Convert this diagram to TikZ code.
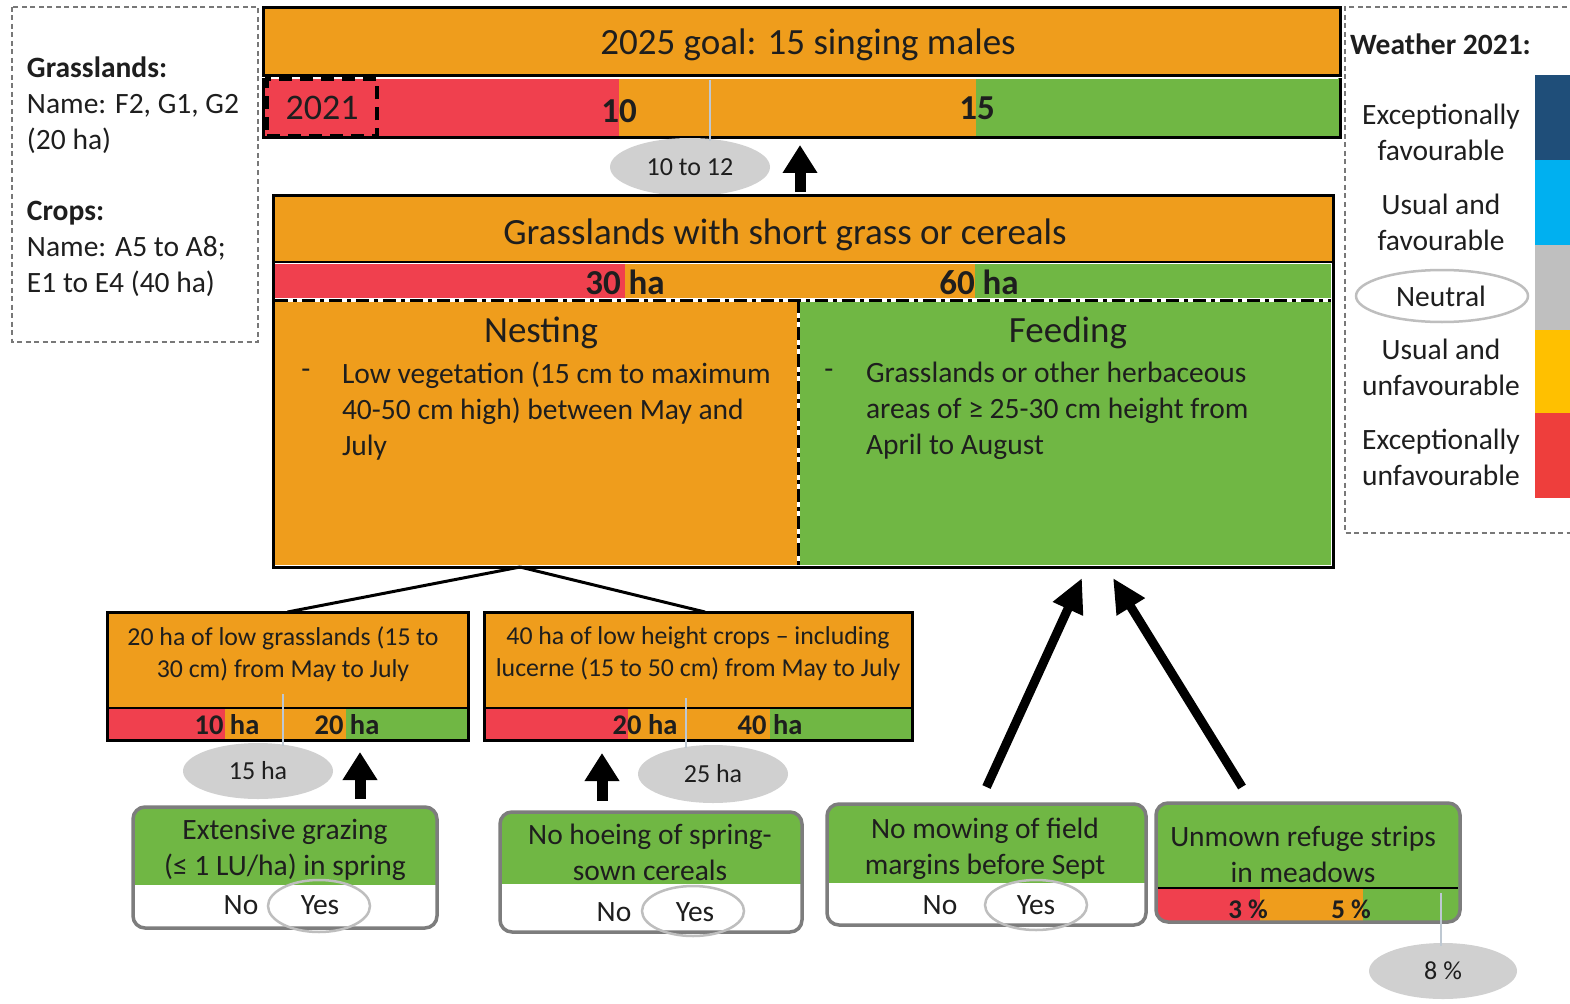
\documentclass[tikz,border=0pt]{standalone}
\usepackage{fontspec}
\setmainfont{Carlito}
\usetikzlibrary{arrows.meta,calc,shapes.geometric}

\definecolor{ink}{RGB}{30,30,30}
\definecolor{orng}{RGB}{239,157,28}
\definecolor{redb}{RGB}{240,64,78}
\definecolor{grnb}{RGB}{112,183,68}
\definecolor{ovalgray}{RGB}{208,208,208}
\definecolor{ringgray}{RGB}{190,190,190}
\definecolor{framegray}{RGB}{125,125,125}
\definecolor{tickgray}{RGB}{190,200,210}
\definecolor{dashgray}{RGB}{120,120,120}
\definecolor{wdark}{RGB}{31,78,121}
\definecolor{wlight}{RGB}{0,176,240}
\definecolor{wgray}{RGB}{191,191,191}
\definecolor{wyellow}{RGB}{255,192,0}
\definecolor{wred}{RGB}{238,62,60}

\newcommand\fz[2]{\fontsize{#1}{#2}\selectfont}

\begin{document}
\begin{tikzpicture}[x=1pt,y=-1pt,
  every node/.style={inner sep=0pt, outer sep=0pt, text=ink},
  plain/.style={font=\fz{29.5}{36}},
  head/.style={font=\fz{37}{44}},
  boxtext/.style={font=\fz{25.8}{32}, align=center},
  oval/.style={ellipse, fill=ovalgray, font=\fz{26}{30}},
  ring/.style={ellipse, draw=ringgray, line width=2.5pt},
  barnum/.style={font=\bfseries\fz{35}{40}},
  smallnum/.style={font=\bfseries\fz{28.5}{32}},
  blockup/.style={line width=11pt, -{Triangle[width=33pt,length=28pt]}},
  diagarrow/.style={line width=9pt, -{Triangle[width=31pt,length=34pt]}},
  tick/.style={draw=tickgray, line width=2.5pt},
  infodash/.style={draw=dashgray, line width=1.5pt, dash pattern=on 5pt off 3.5pt},
  frame/.style={draw=black, line width=3pt},
  optbox/.style={rounded corners=12pt, fill=white},
  optframe/.style={rounded corners=12pt, draw=framegray, line width=3.5pt},
  dashdot/.style={draw=black, line width=3pt, dash pattern=on 13pt off 5pt on 4pt off 5pt},
]
\fill[white] (0,0) rectangle (1570,1003);
\useasboundingbox (0,0) rectangle (1570,1003);

% ---------- site information ----------
\draw[infodash] (12,7) rectangle (258,342);
\node[plain, anchor=west, align=left] (grassinfo) at (27,105)
  {\textbf{Grasslands:}\\Name: F2, G1, G2\\(20 ha)};
\node[plain, anchor=west, align=left] (cropinfo) at (27,249)
  {\textbf{Crops:}\\Name: A5 to A8;\\E1 to E4 (40 ha)};

% ---------- 2025 goal ----------
\node[minimum width=1077, minimum height=60, anchor=north west] (goalbar) at (263,78) {};
\fill[redb] (goalbar.north west) rectangle (619,138);
\fill[orng] (619,78) rectangle (976,138);
\fill[grnb] (976,78) rectangle (goalbar.south east);
\draw[frame] (goalbar.north west) -- (goalbar.south west) -- (goalbar.south east) -- (goalbar.north east);
\node[frame, fill=orng, minimum width=1077, minimum height=68, anchor=north west] (goal) at (263,8) {};
\node[head] (goaltxt) at (808,45) {2025 goal: 15 singing males};
\draw[white, line width=1.5pt] (265,78) -- (1338,78);
\node[draw=black, line width=4pt, dash pattern=on 13pt off 8pt, minimum width=110,
  minimum height=57, font=\fz{36}{40}] (yr) at (322,108) {2021};
\node[barnum] (n10) at (619,111) {10};
\node[barnum] (n15) at (977,108) {15};
\coordinate (tk1) at (710,80);
\node[oval, minimum width=160, minimum height=58] (o1) at (690,167) {10 to 12};
\draw[tick] (tk1) -- ([yshift=-3pt]tk1 |- o1.north);

% ---------- grasslands with short grass or cereals ----------
\node[fill=orng, minimum width=1060, minimum height=67, anchor=north west] (grass) at (273,195) {};
\node[head] (grasstxt) at (785,235) {Grasslands with short grass or cereals};
\fill[redb] (275,262) rectangle (625,300);
\fill[orng] (625,262) rectangle (975,300);
\fill[grnb] (975,262) rectangle (1331,300);
\node[barnum] (n30) at (625,282) {30 ha};
\node[barnum] (n60) at (979,282) {60 ha};
\node[fill=orng, minimum width=523, minimum height=265, anchor=north west] (nest) at (275,300) {};
\node[fill=grnb, minimum width=533, minimum height=265, anchor=north west] (feed) at (798,300) {};
\draw[black, line width=2pt] (273,262) -- (1333,262);
\draw[white, line width=1pt] (275,263.8) -- (1331,263.8);
\draw[white, line width=4pt] (nest.north west) -- (feed.north east);
\draw[dashdot] (nest.north west) -- (feed.north east);
\draw[white, line width=3pt] (feed.north west) -- (feed.south west);
\draw[dashdot] (feed.north west) -- (feed.south west);
\node[frame, minimum width=1060, minimum height=372, anchor=north west] (midframe) at (273,195) {};
\coordinate (up0) at (800,192);
\draw[blockup] (up0) -- (up0 |- goalbar.south) [shorten >=7pt];

\node[head] (nesthead) at (541,333) {Nesting};
\node[plain] (nestdash) at (306,374) {-};
\node[plain, anchor=west, align=left] (nesttxt) at (342,411)
  {Low vegetation (15 cm to maximum\\40-50 cm high) between May and\\July};
\node[head] (feedhead) at (1068,333) {Feeding};
\node[plain] (feeddash) at (829,374) {-};
\node[plain, anchor=west, align=left] (feedtxt) at (866,411)
  {Grasslands or other herbaceous\\areas of ≥ 25-30 cm height from\\April to August};

% ---------- low grasslands / low crops ----------
\node[fill=orng, minimum width=361, minimum height=96, anchor=north west] (boxa) at (107,612) {};
\fill[redb] (107,708) rectangle (225,740);
\fill[orng] (225,708) rectangle (346,740);
\fill[grnb] (346,708) rectangle (468,740);
\draw[black, line width=2pt] (107,708) -- (468,708);
\node[frame, minimum width=361, minimum height=128, anchor=north west] (aframe) at (107,612) {};
\node[boxtext] (atxt) at (283,654) {20 ha of low grasslands (15 to\\30 cm) from May to July};
\node[smallnum] (n10a) at (227,725) {10 ha};
\node[smallnum] (n20a) at (347,725) {20 ha};
\coordinate (tk2) at (283,694);
\node[oval, minimum width=150, minimum height=56] (o2) at (258,771) {15 ha};
\draw[tick] (tk2) -- ([yshift=-3pt]tk2 |- o2.north);

\node[fill=orng, minimum width=428, minimum height=96, anchor=north west] (boxb) at (484,612) {};
\fill[redb] (484,708) rectangle (628,740);
\fill[orng] (628,708) rectangle (770,740);
\fill[grnb] (770,708) rectangle (912,740);
\draw[black, line width=2pt] (484,708) -- (912,708);
\node[frame, minimum width=428, minimum height=128, anchor=north west] (bframe) at (484,612) {};
\node[boxtext] (btxt) at (698,654) {40 ha of low height crops – including\\lucerne (15 to 50 cm) from May to July};
\node[smallnum] (n20b) at (645,725) {20 ha};
\node[smallnum] (n40b) at (770,725) {40 ha};
\coordinate (tk3) at (686,698);
\node[oval, minimum width=150, minimum height=58] (o3) at (713,774) {25 ha};
\draw[tick] (tk3) -- ([yshift=-3pt]tk3 |- o3.north);

\coordinate (fork) at (520,567);
\draw[black, line width=3pt] (fork) -- (aframe.north);
\draw[black, line width=3pt] (fork) -- ([xshift=7pt]bframe.north);

% ---------- measures ----------
% extensive grazing
\node[optbox, minimum width=304, minimum height=121] (c1) at (285,867.5) {};
\begin{scope}
  \clip[rounded corners=12pt] (c1.north west) rectangle (c1.south east);
  \fill[grnb] (c1.north west) rectangle ($(c1.north east)+(0,78)$);
\end{scope}
\draw[optframe] (c1.north west) rectangle (c1.south east);
\node[plain, align=center] (c1txt) at (285,850) {Extensive grazing\\(≤ 1 LU/ha) in spring};
\node[plain] (c1no) at (241,905) {No};
\node[ring, minimum width=102, minimum height=52] (c1ring) at (319,906) {};
\node[plain] (c1yes) at (320,905) {Yes};

% no hoeing
\node[optbox, minimum width=302, minimum height=120] (c2) at (651,872) {};
\begin{scope}
  \clip[rounded corners=12pt] (c2.north west) rectangle (c2.south east);
  \fill[grnb] (c2.north west) rectangle ($(c2.north east)+(0,72)$);
\end{scope}
\draw[optframe] (c2.north west) rectangle (c2.south east);
\node[plain, align=center] (c2txt) at (650,852) {No hoeing of spring-\\sown cereals};
\node[plain] (c2no) at (614,912) {No};
\node[ring, minimum width=102, minimum height=50] (c2ring) at (693,911) {};
\node[plain] (c2yes) at (695,912) {Yes};

% no mowing of field margins
\node[optbox, minimum width=319, minimum height=121] (c3) at (986.5,864.5) {};
\begin{scope}
  \clip[rounded corners=12pt] (c3.north west) rectangle (c3.south east);
  \fill[grnb] (c3.north west) rectangle ($(c3.north east)+(0,79)$);
\end{scope}
\draw[optframe] (c3.north west) rectangle (c3.south east);
\node[plain, align=center] (c3txt) at (985,849) {No mowing of field\\margins before Sept};
\node[plain] (c3no) at (940,905) {No};
\node[ring, minimum width=102, minimum height=50] (c3ring) at (1036,905) {};
\node[plain] (c3yes) at (1036,905) {Yes};

% unmown refuge strips
\node[optbox, minimum width=304, minimum height=119] (c4) at (1308,862.5) {};
\begin{scope}
  \clip[rounded corners=12pt] (c4.north west) rectangle (c4.south east);
  \fill[grnb] (c4.north west) rectangle (c4.south east);
  \fill[redb] (1150,888) rectangle (1260,930);
  \fill[orng] (1260,888) rectangle (1363,930);
\end{scope}
\draw[black, line width=2pt] (1158,888) -- (1458,888);
\draw[optframe] (c4.north west) rectangle (c4.south east);
\node[plain, align=center] (c4txt) at (1303,854) {Unmown refuge strips\\in meadows};
\node[font=\bfseries\fz{27}{30}] (n3) at (1248,909) {3 \%};
\node[font=\bfseries\fz{27}{30}] (n5) at (1351,909) {5 \%};
\coordinate (tk4) at (1441,893);
\node[oval, minimum width=148, minimum height=56] (o4) at (1443,971) {8 \%};
\draw[tick] (tk4) -- ([yshift=-3pt]tk4 |- o4.north);

% measure arrows
\coordinate (ua) at (360,799);
\draw[blockup] (ua) -- (ua |- aframe.south) [shorten >=12pt];
\coordinate (ub) at (602,801);
\draw[blockup] (ub) -- (ub |- bframe.south) [shorten >=13pt];
\draw[diagarrow] ($(c3.north)+(0,-17)$) -- ($(feed.south west)+(284,13)$);
\draw[diagarrow] ($(c4.north)+(-66,-16)$) -- ($(feed.south west)+(315,13)$);

% ---------- weather legend ----------
\draw[infodash] (1575,7) -- (1345,7) -- (1345,533) -- (1575,533);
\node[font=\bfseries\fz{29.5}{36}, anchor=west] (wtitle) at (1350,44) {Weather 2021:};
\node[plain, align=center] (w1) at (1441,132) {Exceptionally\\favourable};
\node[plain, align=center] (w2) at (1441,222) {Usual and\\favourable};
\node[ring, minimum width=172, minimum height=52] (wring) at (1442,296) {};
\node[plain] (w3) at (1441,296) {Neutral};
\node[plain, align=center] (w4) at (1441,367) {Usual and\\unfavourable};
\node[plain, align=center] (w5) at (1441,457) {Exceptionally\\unfavourable};
\fill[wdark] (1535,75) rectangle (1575,160);
\fill[wlight] (1535,160) rectangle (1575,245);
\fill[wgray] (1535,245) rectangle (1575,330);
\fill[wyellow] (1535,330) rectangle (1575,413);
\fill[wred] (1535,413) rectangle (1575,498);
\end{tikzpicture}
\end{document}
